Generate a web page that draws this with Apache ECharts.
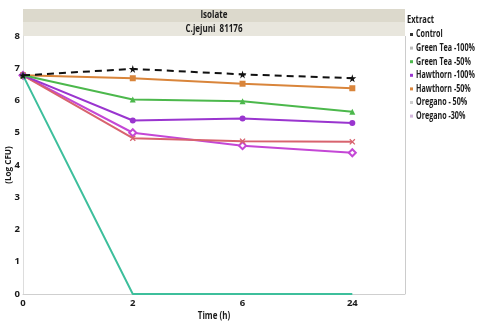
<!DOCTYPE html>
<html><head><meta charset="utf-8">
<script src="https://cdn.jsdelivr.net/npm/echarts@6/dist/echarts.min.js"></script>
<style>html,body{margin:0;padding:0;background:#fff}#c{width:477px;height:331px}</style>
</head><body><div id="c"></div>
<script>
const timeLabels = ['0', '2', '6', '24'];
const seriesNames = ['Control', 'Green Tea -100%', 'Green Tea -50%', 'Hawthorn -100%', 'Hawthorn -50%', 'Oregano - 50%', 'Oregano -30%'];
const control = [6.78, 6.98, 6.81, 6.69];
const greenTea100 = [6.78, 0, 0, 0];
const greenTea50 = [6.78, 6.03, 5.98, 5.65];
const hawthorn100 = [6.78, 5.38, 5.44, 5.3];
const hawthorn50 = [6.78, 6.69, 6.52, 6.38];
const oregano50 = [6.78, 4.83, 4.74, 4.72];
const oregano30 = [6.78, 5.0, 4.6, 4.38];
const yTicks = [0, 1, 2, 3, 4, 5, 6, 7, 8];

const colors = ['#111111', '#3dbf9c', '#4cb84c', '#9a35cf', '#d9853b', '#d8636e', '#c447d6'];
const legendColors = ['#333333', '#bbbbbb', '#4cb84c', '#9a35cf', '#d9853b', '#cccccc', '#d2b6dc'];
const starPath = 'path://M50,0 L61,35 L98,35 L68,57 L79,91 L50,70 L21,91 L32,57 L2,35 L39,35 Z';
const xPath = 'path://M0,15 L15,0 L50,35 L85,0 L100,15 L65,50 L100,85 L85,100 L50,65 L15,100 L0,85 L35,50 Z';
const symbols = [starPath, 'none', 'triangle', 'circle', 'rect', xPath, 'emptyDiamond'];
const sizes = [8, 0, 6, 6, 6, 6, 7];
const allData = [control, greenTea100, greenTea50, hawthorn100, hawthorn50, oregano50, oregano30];

const font = 'Open Sans';
const chart = echarts.init(document.getElementById('c'));
const series = allData.map((d, i) => ({
  name: seriesNames[i],
  type: 'line',
  data: d.map((v, j) => [j, v]),
  symbol: symbols[i],
  symbolSize: sizes[i],
  showSymbol: symbols[i] !== 'none',
  lineStyle: { color: colors[i], width: 2, type: i === 0 ? [7, 5] : 'solid' },
  itemStyle: { color: colors[i], borderColor: colors[i], borderWidth: i === 6 ? 1.5 : 0 },
  z: 10 - i,
  animation: false
}));

const legendGraphics = [];
seriesNames.forEach((n, i) => {
  const y = 34.5 + i * 13.6;
  legendGraphics.push({ type: 'rect', shape: { x: 410, y: y - 1.5, width: 3, height: 3 }, style: { fill: legendColors[i] }, silent: true });
  legendGraphics.push({ type: 'text', x: 416, y: y, scaleX: 0.68, style: { text: n, font: 'bold 10.5px "Open Sans"', fill: '#1a1a1a', verticalAlign: 'middle' }, silent: true });
});

chart.setOption({
  animation: false,
  color: colors,
  grid: { left: 23, right: 72, top: 36, bottom: 37, show: false, containLabel: false, outerBoundsMode: 'none' },
  graphic: [
    { type: 'rect', shape: { x: 23, y: 9, width: 382, height: 13 }, style: { fill: '#dcd9cc' }, silent: true },
    { type: 'rect', shape: { x: 23, y: 22, width: 382, height: 14 }, style: { fill: '#e8e6dd' }, silent: true },
    { type: 'text', x: 214, y: 15.5, scaleX: 0.8, style: { text: 'Isolate', font: 'bold 10px "Open Sans"', fill: '#1a1a1a', align: 'center', verticalAlign: 'middle' } },
    { type: 'text', x: 214, y: 29, scaleX: 0.8, style: { text: 'C.jejuni  81176', font: 'bold 10px "Open Sans"', fill: '#1a1a1a', align: 'center', verticalAlign: 'middle' } },
    { type: 'line', shape: { x1: 405.5, y1: 36, x2: 405.5, y2: 294 }, style: { stroke: '#cccccc', lineWidth: 1 } },
    { type: 'text', x: 407, y: 20, scaleX: 0.72, style: { text: 'Extract', font: 'bold 10.5px "Open Sans"', fill: '#1a1a1a', verticalAlign: 'middle' } },
    { type: 'text', x: 8, y: 165, rotation: Math.PI / 2, scaleX: 0.85, style: { text: '(Log CFU)', font: 'bold 9.5px "Open Sans"', fill: '#1a1a1a', align: 'center', verticalAlign: 'middle' } },
    { type: 'text', x: 214, y: 316, scaleX: 0.8, style: { text: 'Time (h)', font: 'bold 10px "Open Sans"', fill: '#1a1a1a', align: 'center', verticalAlign: 'middle' } }
  ].concat(legendGraphics),
  legend: { show: false },
  xAxis: {
    type: 'value', min: 0, max: 3.48, interval: 1,
    axisLine: { lineStyle: { color: '#cfcfcf', width: 1 } },
    axisTick: { show: false },
    splitLine: { show: false },
    axisLabel: { fontFamily: font, fontWeight: 'bold', fontSize: 9.5, color: '#1a1a1a', margin: 4,
      formatter: v => (Number.isInteger(v) && v < timeLabels.length) ? timeLabels[v] : '' }
  },
  yAxis: {
    type: 'value', min: yTicks[0], max: yTicks[yTicks.length - 1], interval: 1,
    axisLine: { show: true, lineStyle: { color: '#dddddd', width: 1 } },
    axisTick: { show: false },
    splitLine: { show: false },
    axisLabel: { fontFamily: font, fontWeight: 'bold', fontSize: 9.5, color: '#1a1a1a', margin: 3 }
  },
  series: series
});
</script>
</body></html>
